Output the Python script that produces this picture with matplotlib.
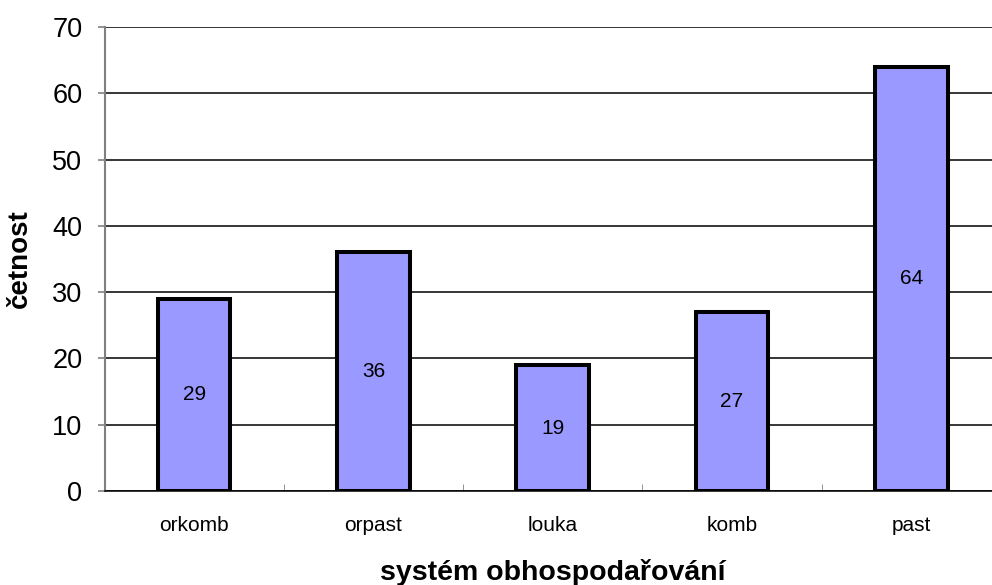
import matplotlib
matplotlib.use("Agg")
import matplotlib.pyplot as plt
import numpy as np

categories = ["orkomb", "orpast", "louka", "komb", "past"]
values = [29, 36, 19, 27, 64]
yticks = [0, 10, 20, 30, 40, 50, 60, 70]

plt.rcParams['font.family'] = ['Liberation Sans', 'DejaVu Sans']

fig = plt.figure(figsize=(9.92, 5.85), dpi=100)
ax = fig.add_axes([104.5/992, 1-491/585, (1001-104.5)/992, (491-27)/585])

x = np.arange(len(categories))
bars = ax.bar(x, values, width=0.405, color="#9999FF", edgecolor="black", linewidth=2.9, zorder=3)
for xi, v in zip(x, values):
    ax.text(xi, v/2, str(v), ha="center", va="center", fontsize=15, zorder=4)

ax.set_xlim(-0.5, len(categories)-0.5)
ax.set_ylim(0, 70)
ax.set_yticks(yticks)
ax.set_yticklabels([str(t) for t in yticks], fontsize=19.5)
ax.yaxis.grid(True, color="black", linewidth=1.1, zorder=0)
ax.set_axisbelow(True)

ax.set_xticks(x)
ax.set_xticklabels(categories, fontsize=15)
ax.tick_params(axis="x", length=0, pad=18)
ax.set_xticks(np.arange(0.5, len(categories)-0.5, 1.0), minor=True)
ax.tick_params(axis="x", which="minor", length=5, direction="in", color="#808080")
ax.tick_params(axis="y", length=5, color="#808080", width=1.2, pad=11)

for s in ["top", "right"]:
    ax.spines[s].set_visible(False)
ax.spines["left"].set_color("#808080")
ax.spines["left"].set_linewidth(1.5)
ax.spines["bottom"].set_color("black")
ax.spines["bottom"].set_linewidth(1.1)

ax.set_xlabel("systém obhospodařování", fontsize=20.5, fontweight="bold", labelpad=17)
ax.set_ylabel("četnost", fontsize=20, fontweight="bold", labelpad=14)

fig.savefig("out.png", dpi=100)
